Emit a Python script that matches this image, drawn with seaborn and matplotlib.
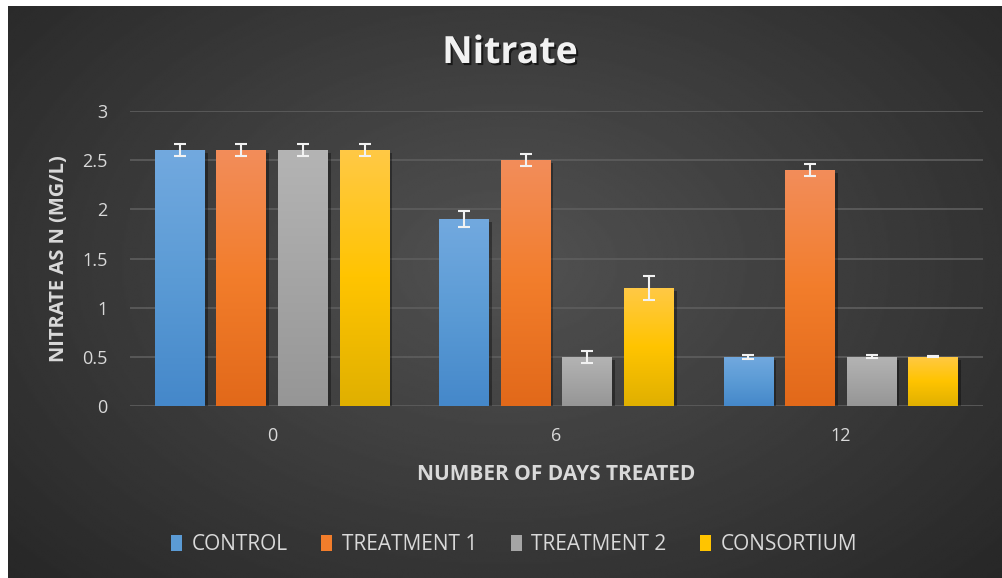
import numpy as np
import pandas as pd
import matplotlib
matplotlib.use('Agg')
import matplotlib.pyplot as plt
import matplotlib.patheffects as pe
from matplotlib.colors import LinearSegmentedColormap
from matplotlib.patches import Patch
import seaborn as sns

# data
days = ['0', '6', '12']
groups = ['CONTROL', 'TREATMENT 1', 'TREATMENT 2', 'CONSORTIUM']
control = [2.6, 1.9, 0.5]
treatment1 = [2.6, 2.5, 2.4]
treatment2 = [2.6, 0.5, 0.5]
consortium = [2.6, 1.2, 0.5]
control_err = [0.06, 0.08, 0.02]
treatment1_err = [0.06, 0.06, 0.06]
treatment2_err = [0.06, 0.06, 0.015]
consortium_err = [0.06, 0.12, 0.005]

values = [control, treatment1, treatment2, consortium]
errors = [control_err, treatment1_err, treatment2_err, consortium_err]

df = pd.DataFrame({
    'day': days * len(groups),
    'group': [g for g in groups for _ in days],
    'nitrate': [v for vals in values for v in vals],
})

# top, middle, bottom colour of each bar gradient
grad_colors = {
    'CONTROL':     ['#72a9df', '#5b9bd5', '#4588ca'],
    'TREATMENT 1': ['#f38d5a', '#f27d2b', '#e2691a'],
    'TREATMENT 2': ['#b4b4b4', '#a5a5a5', '#969696'],
    'CONSORTIUM':  ['#ffc945', '#ffc400', '#e0b000'],
}
mid_colors = {g: c[1] for g, c in grad_colors.items()}

sns.set_theme(style='dark')
plt.rcParams['font.family'] = ['Open Sans', 'DejaVu Sans']

fig = plt.figure(figsize=(10.02, 5.78), dpi=100, facecolor='white')

# dark radial background like the office chart style
bg = fig.add_axes([8 / 1002, 0, 994 / 1002, 572 / 578])
yy, xx = np.mgrid[0:300, 0:500]
r = np.sqrt(((xx - 250) / 330.0) ** 2 + ((yy - 135) / 230.0) ** 2)
shade = np.clip(0.32 - 0.16 * r, 0.15, 0.32)
bg.imshow(shade, cmap='gray', vmin=0, vmax=1, aspect='auto', interpolation='bilinear')
bg.axis('off')

ax = fig.add_axes([130 / 1002, 1 - 406 / 578, 853 / 1002, 295 / 578])
ax.set_facecolor('none')

sns.barplot(data=df, x='day', y='nitrate', hue='group', order=days, hue_order=groups,
            palette=mid_colors, errorbar=None, width=0.866, gap=0.19, legend=False,
            saturation=1, linewidth=0, edgecolor='none', ax=ax, zorder=3)

ax.set_ylim(0, 3)
ax.set_xlim(-0.5, 2.5)

# gradient fill + shadow + error bars on each bar
for gi, (group, container) in enumerate(zip(groups, ax.containers)):
    cmap = LinearSegmentedColormap.from_list(group, grad_colors[group][::-1])
    for bi, bar in enumerate(container):
        x0, y0 = bar.get_x(), bar.get_y()
        w, h = bar.get_width(), bar.get_height()
        bar.set_linewidth(0)
        bar.set_path_effects([pe.SimplePatchShadow(offset=(2, -2), shadow_rgbFace='black', alpha=0.35),
                              pe.Normal()])
        img = ax.imshow(np.linspace(0, 1, 100).reshape(-1, 1), cmap=cmap, aspect='auto',
                        origin='lower', extent=[x0, x0 + w, y0, y0 + h], zorder=3.5,
                        interpolation='bilinear')
        img.set_clip_path(bar)
        ax.errorbar(x0 + w / 2, h, yerr=errors[gi][bi], fmt='none', ecolor='#f2f2f2',
                    elinewidth=1.5, capsize=4.5, capthick=1.5, zorder=5)

ax.set_ylim(0, 3)
ax.set_xlim(-0.5, 2.5)
ax.set_yticks([0, 0.5, 1, 1.5, 2, 2.5, 3])
ax.set_yticklabels(['0', '0.5', '1', '1.5', '2', '2.5', '3'])

ax.grid(axis='y', color='#5e5e5e', linewidth=1.2, zorder=0)
ax.grid(axis='x', visible=False)
for s in ax.spines.values():
    s.set_visible(False)
ax.tick_params(axis='y', length=0, pad=16, labelsize=13, labelcolor='#d9d9d9')
ax.tick_params(axis='x', length=0, pad=15, labelsize=13, labelcolor='#d9d9d9')

ax.set_xlabel('NUMBER OF DAYS TREATED', fontsize=15, fontweight='bold', color='#d9d9d9')
ax.set_ylabel('NITRATE AS N (MG/L)', fontsize=14.5, fontweight='bold', color='#d9d9d9')
ax.xaxis.set_label_coords(0.5, -0.198)
ax.yaxis.set_label_coords(-0.072, 0.5)

fig.text(510 / 1002, 1 - 53 / 578, 'Nitrate', ha='center', va='center', fontsize=27,
         fontweight='bold', color='#f2f2f2',
         path_effects=[pe.withSimplePatchShadow(offset=(1.5, -1.5), shadow_rgbFace='black', alpha=0.6)])

handles = [Patch(facecolor=mid_colors[g], edgecolor='none', label=g) for g in groups]
fig.legend(handles=handles, loc='center', bbox_to_anchor=(514 / 1002, 1 - 545 / 578), ncol=4,
           frameon=False, fontsize=15, handlelength=0.55, handleheight=0.8, handletextpad=0.45,
           columnspacing=1.6, labelcolor='#d9d9d9')

fig.savefig('out.png', dpi=100, facecolor=fig.get_facecolor())
